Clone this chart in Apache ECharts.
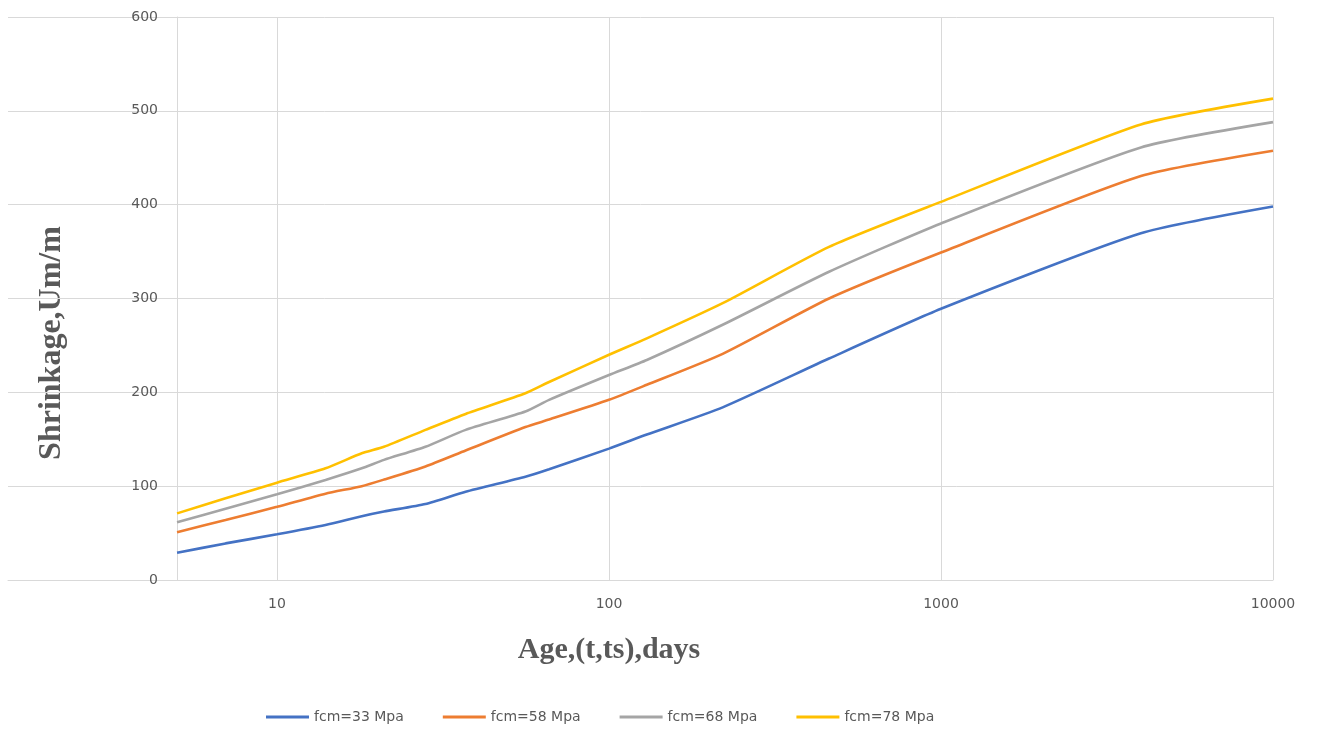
<!DOCTYPE html>
<html>
<head>
<meta charset="utf-8">
<script src="https://cdn.jsdelivr.net/npm/echarts@6/dist/echarts.min.js"></script>
<style>
  html, body { margin: 0; padding: 0; background: #ffffff; }
  #chart { width: 1318px; height: 729px; }
</style>
</head>
<body>
<div id="chart"></div>
<script>
// Age of concrete since end of curing (days), log scale
const ages = [5, 7, 10, 14, 18, 21, 28, 37, 56, 66, 100, 130, 220, 460, 1000, 4000, 10000];

// Shrinkage strain (um/m) for each concrete strength
const fcm33 = [29, 39, 48.7, 58.6, 68, 73, 81, 94, 110, 118, 140, 155, 184, 236, 289, 369.5, 398];
const fcm58 = [51, 64, 78, 92, 100, 107, 121, 138, 163, 171, 192, 208, 241, 300, 349, 430.5, 457.5];
const fcm68 = [61.5, 76, 91.3, 106.6, 119, 128, 142, 160, 179.5, 192, 218.5, 234.5, 272, 328.5, 380, 461, 488];
const fcm78 = [71, 87, 103.7, 119, 135, 142, 160, 177, 199, 211, 240, 257.5, 295, 355, 403, 485.5, 513];

const seriesNames = ['fcm=33 Mpa', 'fcm=58 Mpa', 'fcm=68 Mpa', 'fcm=78 Mpa'];
const seriesValues = [fcm33, fcm58, fcm68, fcm78];
const seriesColors = ['#4472C4', '#ED7D31', '#A5A5A5', '#FFC000'];

const xTitle = 'Age,(t,ts),days';
const yTitle = 'Shrinkage,Um/m';

const gridLeft = 8, gridRight = 45, gridTop = 17, gridBottom = 149;
// The left edge of the plot sits a bit below the first data age
const xMin = Math.pow(10, 1 - 269 / 332);

const chart = echarts.init(document.getElementById('chart'));

const series = seriesNames.map((name, i) => ({
  name: name,
  type: 'line',
  data: ages.map((a, j) => [a, seriesValues[i][j]]),
  symbol: 'none',
  smooth: 0.2,
  lineStyle: { width: 2.6, color: seriesColors[i] },
  itemStyle: { color: seriesColors[i] },
  z: 3 + i
}));

chart.setOption({
  animation: false,
  backgroundColor: '#ffffff',
  textStyle: { fontFamily: '"DejaVu Sans", sans-serif' },
  grid: { left: gridLeft, right: gridRight, top: gridTop, bottom: gridBottom },
  xAxis: {
    type: 'log',
    logBase: 10,
    min: xMin,
    max: 10000,
    axisLine: { show: true, lineStyle: { color: '#d9d9d9', width: 1 } },
    axisTick: { show: false },
    axisLabel: {
      showMinLabel: false,
      color: '#595959',
      fontSize: 14,
      margin: 17,
      formatter: v => String(Math.round(v))
    },
    splitLine: { show: true, showMinLine: false, lineStyle: { color: '#d9d9d9', width: 1 } }
  },
  yAxis: {
    type: 'value',
    min: 0,
    max: 600,
    interval: 100,
    offset: -169,
    axisLine: { show: true, lineStyle: { color: '#d9d9d9', width: 1 } },
    axisTick: { show: false },
    axisLabel: { color: '#595959', fontSize: 14, margin: 19 },
    splitLine: { show: true, lineStyle: { color: '#d9d9d9', width: 1 } }
  },
  legend: {
    data: seriesNames,
    left: 261,
    top: 704,
    icon: 'rect',
    itemWidth: 43,
    itemHeight: 3,
    itemGap: 39,
    textStyle: { color: '#595959', fontSize: 14, fontFamily: '"DejaVu Sans", sans-serif', lineHeight: 16 }
  },
  graphic: [
    {
      type: 'text',
      x: 609, y: 650,
      style: {
        text: xTitle,
        align: 'center', verticalAlign: 'middle',
        font: 'bold 30px "Liberation Serif", "Times New Roman", serif',
        fill: '#595959'
      }
    },
    {
      type: 'text',
      x: 52, y: 343,
      rotation: Math.PI / 2,
      style: {
        text: yTitle,
        align: 'center', verticalAlign: 'middle',
        font: 'bold 32px "Liberation Serif", "Times New Roman", serif',
        fill: '#595959'
      }
    }
  ],
  series: series
});
</script>
</body>
</html>
